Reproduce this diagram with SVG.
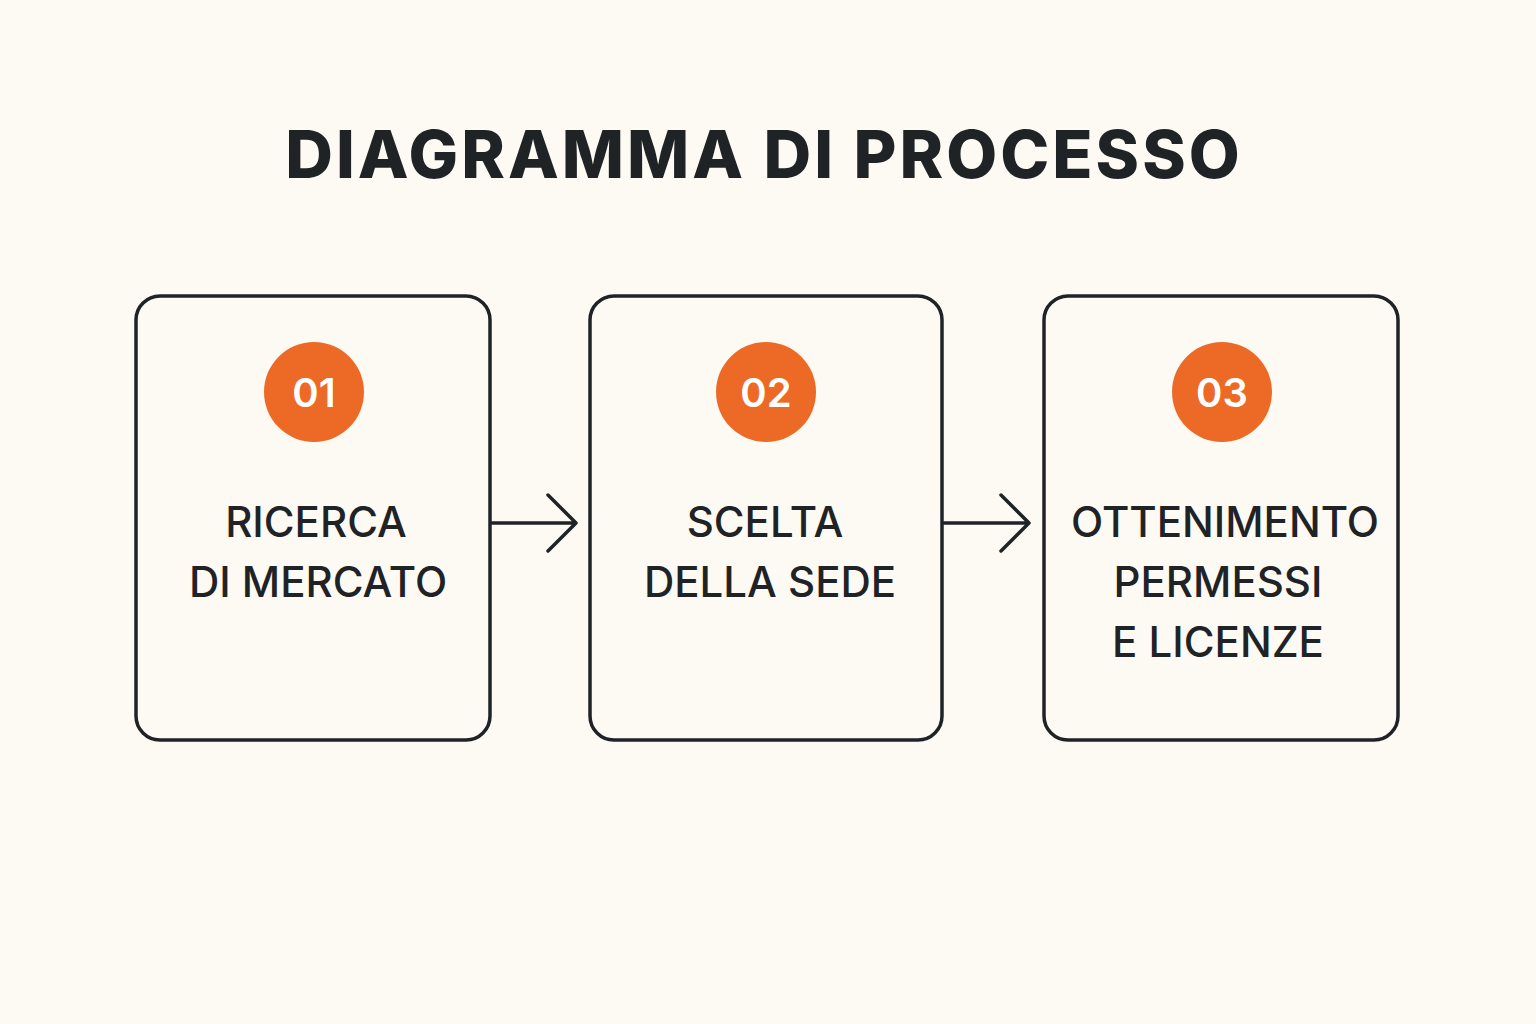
<svg xmlns="http://www.w3.org/2000/svg" width="1536" height="1024" viewBox="0 0 1536 1024">
<defs><style>
.box{fill:#fdfaf4;stroke:#1f2326;stroke-width:3.5}
.num{fill:#ec6a26}
.nt{font-family:Inter,"Noto Sans",sans-serif;font-weight:600;font-size:40px;fill:#fff;text-anchor:middle}
.lb{font-family:Inter,"Noto Sans",sans-serif;font-weight:500;font-size:42px;fill:#1f2326;text-anchor:middle}
.con{fill:none;stroke:#1f2326;stroke-width:3.5;stroke-linecap:round;stroke-linejoin:round}
</style></defs>
<rect width="1536" height="1024" fill="#fdfaf4"/>
<text x="764" y="178" font-family="Inter,'Noto Sans',sans-serif" font-weight="800" font-size="66" letter-spacing="3" fill="#1f2326" text-anchor="middle">DIAGRAMMA DI PROCESSO</text>
<g id="n1"><rect class="box" x="136" y="296" width="354" height="444" rx="24"/><circle class="num" cx="314" cy="392" r="50"/><text class="nt" x="314" y="407">01</text><text class="lb" x="316" y="537">RICERCA</text><text class="lb" x="318" y="597">DI MERCATO</text></g>
<g id="n2"><rect class="box" x="590" y="296" width="352" height="444" rx="24"/><circle class="num" cx="766" cy="392" r="50"/><text class="nt" x="766" y="407">02</text><text class="lb" x="765" y="537">SCELTA</text><text class="lb" x="770" y="597">DELLA SEDE</text></g>
<g id="n3"><rect class="box" x="1044" y="296" width="354" height="444" rx="24"/><circle class="num" cx="1222" cy="392" r="50"/><text class="nt" x="1222" y="407">03</text><text class="lb" x="1225" y="537">OTTENIMENTO</text><text class="lb" x="1218" y="597">PERMESSI</text><text class="lb" x="1218" y="657">E LICENZE</text></g>
<g id="connectors">
<path class="con" d="M492 523H576M548 495L576 523L548 551"/>
<path class="con" d="M944 523H1029M1001 495L1029 523L1001 551"/>
</g>
</svg>
